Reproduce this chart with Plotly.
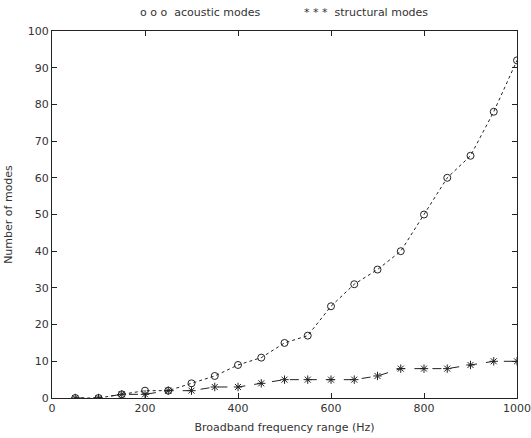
import plotly.graph_objects as go

freq = [50, 100, 150, 200, 250, 300, 350, 400, 450, 500, 550, 600, 650, 700, 750, 800, 850, 900, 950, 1000]
acoustic = [0, 0, 1, 2, 2, 4, 6, 9, 11, 15, 17, 25, 31, 35, 40, 50, 60, 66, 78, 92]
structural = [0, 0, 1, 1, 2, 2, 3, 3, 4, 5, 5, 5, 5, 6, 8, 8, 8, 9, 10, 10]
x_ticks = [0, 200, 400, 600, 800, 1000]
y_ticks = [0, 10, 20, 30, 40, 50, 60, 70, 80, 90, 100]

fig = go.Figure()
fig.add_trace(go.Scatter(
    x=freq, y=acoustic, mode="lines+markers", name="acoustic modes",
    line=dict(color="#222", width=1, dash="dot"),
    marker=dict(symbol="circle-open", size=7, color="#222", line=dict(width=1)),
))
fig.add_trace(go.Scatter(
    x=freq, y=structural, mode="lines+markers", name="structural modes",
    line=dict(color="#222", width=1, dash="dash"),
    marker=dict(symbol="asterisk-open", size=7, color="#222", line=dict(width=1, color="#222")),
))

font = dict(family="DejaVu Sans", size=11, color="#333")
axis_common = dict(
    showgrid=False, zeroline=False, showline=True, linecolor="#222", linewidth=1,
    mirror="ticks", ticks="inside", ticklen=5, tickcolor="#222", tickfont=font,
    automargin=False,
)
fig.update_xaxes(range=[0, 1000], tickvals=x_ticks, **axis_common,
                 title=dict(text="Broadband frequency range (Hz)", font=font, standoff=9))
fig.update_yaxes(range=[0, 100], tickvals=y_ticks, **axis_common,
                 title=dict(text="Number of modes", font=font, standoff=12))

fig.add_annotation(x=0.32, y=1.0, xref="paper", yref="paper", xanchor="center", yanchor="bottom", yshift=10,
                   text="o o o  acoustic modes", showarrow=False, font=font)
fig.add_annotation(x=0.675, y=1.0, xref="paper", yref="paper", xanchor="center", yanchor="bottom", yshift=10,
                   text="* * *  structural modes", showarrow=False, font=font)

fig.update_layout(
    width=531, height=438, showlegend=False,
    paper_bgcolor="white", plot_bgcolor="white",
    margin=dict(l=52, r=14, t=31, b=40),
    font=font,
)
fig.write_html("out.html")
